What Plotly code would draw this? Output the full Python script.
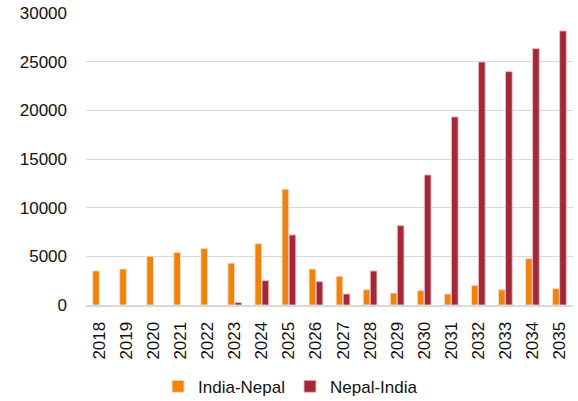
import plotly.graph_objects as go

years = [str(y) for y in range(2018, 2036)]
india_nepal = [3500, 3700, 5000, 5400, 5800, 4300, 6300, 11900, 3700, 2950, 1570, 1230,
               1470, 1130, 2020, 1570, 4760, 1680]
nepal_india = [None, None, None, None, None, 250, 2500, 7200, 2400, 1130, 3500, 8150,
               13360, 19320, 24970, 23980, 26340, 28160]
y_ticks = [0, 5000, 10000, 15000, 20000, 25000, 30000]

FONT = "Liberation Sans"
TXT = "#111111"

fig = go.Figure()
fig.add_trace(go.Bar(x=years, y=india_nepal, name="India-Nepal",
                     marker=dict(color="#F0820E", line=dict(color="rgba(255,220,190,0.9)", width=1))))
fig.add_trace(go.Bar(x=years, y=nepal_india, name="Nepal-India",
                     marker=dict(color="#A3293A", line=dict(color="rgba(240,190,200,0.9)", width=1))))

fig.update_layout(
    width=578, height=401,
    margin=dict(l=86, r=5, t=13, b=96, autoexpand=False),
    paper_bgcolor="white", plot_bgcolor="white",
    barmode="group", bargap=0.48, bargroupgap=0.05,
    font=dict(family=FONT, size=17, color=TXT),
    showlegend=True,
    legend=dict(orientation="h", x=0.42, xanchor="center", y=-0.28, yanchor="middle",
                font=dict(family=FONT, size=17, color=TXT),
                itemwidth=30, tracegroupgap=0, bgcolor="rgba(0,0,0,0)"),
)
fig.update_xaxes(type="category", tickangle=-90, showgrid=False, showline=True,
                 linecolor="#D9D9D9", linewidth=2, ticks="", ticklabelstandoff=8,
                 automargin=False,
                 tickfont=dict(family=FONT, size=17, color=TXT))
fig.update_yaxes(range=[0, 30000], tickvals=y_ticks, ticktext=[str(v) for v in y_ticks],
                 showgrid=True, gridcolor="#D9D9D9", gridwidth=1, zeroline=False,
                 showline=False, ticks="", ticklabelstandoff=18, automargin=False,
                 tickfont=dict(family=FONT, size=17, color=TXT))

fig.write_html("out.html")
